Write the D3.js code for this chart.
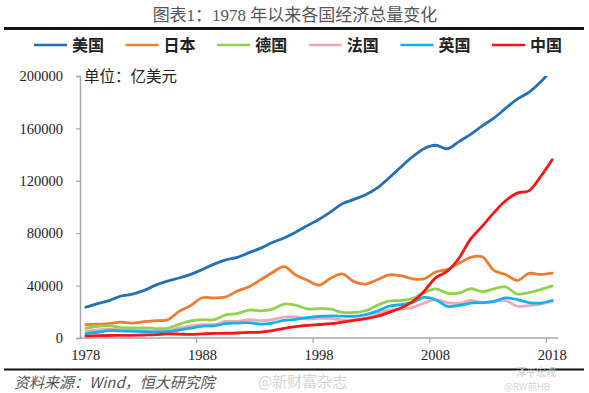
<!DOCTYPE html>
<html>
<head>
<meta charset="utf-8">
<script src="https://cdn.jsdelivr.net/npm/d3@7"></script>
<style>
  html, body { margin: 0; padding: 0; background: #fff; }
  svg { display: block; }
</style>
</head>
<body>
<svg id="chart" width="589" height="393"></svg>
<script>
// GDP by country since 1978, unit: 100 million USD
const years = d3.range(1978, 2019);
const us = [23520, 26270, 28570, 32070, 33430, 36340, 40370, 43390, 45790, 48550,
  52360, 56410, 59630, 61580, 65200, 68590, 72870, 76400, 80730, 85780,
  90630, 96310, 102520, 105820, 109360, 114580, 122140, 130370, 138150, 144520,
  147130, 144490, 149920, 155430, 161970, 167850, 175270, 182380, 187450, 195430, 205000];
const japan = [10130, 10550, 11050, 12180, 11340, 12430, 13180, 13850, 20310, 24860,
  30710, 30540, 31330, 35850, 39090, 44540, 49990, 54490, 48150, 44150,
  40330, 45620, 48880, 43040, 41150, 44460, 48150, 47550, 45300, 45150,
  50380, 52310, 57000, 61570, 62030, 51560, 48500, 43890, 49270, 48600, 49550];
const germany = [7400, 8810, 9500, 8000, 7770, 7710, 7200, 7330, 10460, 12980,
  14010, 13980, 17720, 18690, 21310, 20720, 22060, 25920, 25040, 22180,
  22430, 22000, 19500, 19450, 20800, 25060, 28150, 28610, 30020, 34400,
  37520, 34180, 34170, 37580, 35440, 37530, 38990, 33580, 34690, 36900, 39770];
const france = [5070, 6140, 7010, 6150, 5850, 5590, 5300, 5530, 7710, 9340,
  10190, 10180, 12690, 12700, 14010, 13220, 13930, 16010, 16050, 14520,
  15030, 14930, 13680, 13820, 15000, 18440, 21190, 21960, 23200, 26600,
  29300, 27000, 26430, 28620, 26830, 28110, 28520, 24390, 24720, 25950, 27880];
const uk = [3350, 4380, 5650, 5400, 5150, 4890, 4620, 4890, 6010, 7450,
  9100, 9260, 10930, 11420, 11790, 10610, 11400, 13440, 14190, 15610,
  16530, 16880, 16660, 16490, 17850, 20540, 24220, 25390, 27130, 30930,
  29230, 24100, 24850, 26660, 27060, 27860, 30650, 29330, 27040, 26660, 28610];
const china = [1490, 1780, 1910, 1960, 2050, 2300, 2600, 3090, 3010, 2730,
  3120, 3480, 3610, 3830, 4270, 4450, 5640, 7340, 8640, 9620,
  10290, 10940, 12110, 13390, 14710, 16600, 19550, 22860, 27520, 35500,
  45940, 51020, 60870, 75520, 85320, 95700, 104750, 110620, 112330, 123100, 136100];

const seriesNames = ['美国', '日本', '德国', '法国', '英国', '中国'];
const seriesValues = [us, japan, germany, france, uk, china];
const seriesColors = ['#2470b8', '#ed7d31', '#92d050', '#eeaab4', '#12b0ec', '#fa1414'];

const yTicks = [0, 40000, 80000, 120000, 160000, 200000];
const xLabels = [1978, 1988, 1998, 2008, 2018];

const svg = d3.select('#chart');
const serif = '"Liberation Serif", "Noto Sans CJK SC", serif';
const cjk = '"Noto Sans CJK SC", sans-serif';

// title and rule
svg.append('text')
  .attr('x', 295).attr('y', 21)
  .attr('text-anchor', 'middle')
  .attr('font-family', serif)
  .attr('font-size', 17)
  .attr('fill', '#555')
  .text('图表1：1978 年以来各国经济总量变化');

svg.append('line')
  .attr('x1', 4).attr('x2', 584)
  .attr('y1', 28.5).attr('y2', 28.5)
  .attr('stroke', '#111').attr('stroke-width', 3);

// legend
const legend = svg.append('g')
  .selectAll('g')
  .data(seriesNames)
  .enter()
  .append('g')
  .attr('transform', (d, i) => `translate(${34 + i * 91.6},45)`);

legend.append('line')
  .attr('x1', 0).attr('x2', 33)
  .attr('stroke', (d, i) => seriesColors[i])
  .attr('stroke-width', 2.5);

legend.append('text')
  .attr('x', 38).attr('y', 6)
  .attr('font-family', cjk)
  .attr('font-weight', 'bold')
  .attr('font-size', 16)
  .attr('fill', '#222')
  .text(d => d);

// scales
const x = d3.scaleBand().domain(years).range([80, 558]).padding(0);
const y = d3.scaleLinear().domain([0, 200000]).range([338, 76]);
const cx = yr => x(yr) + x.bandwidth() / 2;

// y axis
const yAxis = svg.append('g')
  .attr('transform', 'translate(80,0)')
  .call(d3.axisLeft(y).tickValues(yTicks).tickSize(4).tickPadding(13).tickFormat(d3.format('d')));
yAxis.select('.domain').attr('stroke', '#a6a6a6').attr('stroke-width', 1.5);
yAxis.selectAll('.tick line').attr('stroke', '#a6a6a6').attr('stroke-width', 1.2);
yAxis.selectAll('.tick text')
  .attr('font-family', serif)
  .attr('font-size', 14.5)
  .attr('fill', '#222');

// x axis: ticks on category boundaries, labels centred on categories
svg.append('line')
  .attr('x1', 80).attr('x2', 558)
  .attr('y1', y(0)).attr('y2', y(0))
  .attr('stroke', '#a6a6a6').attr('stroke-width', 1.5);

svg.append('g')
  .selectAll('line')
  .data(xLabels.slice(1))
  .enter()
  .append('line')
  .attr('x1', d => x(d)).attr('x2', d => x(d))
  .attr('y1', y(0)).attr('y2', y(0) + 5)
  .attr('stroke', '#a6a6a6').attr('stroke-width', 1.2);

svg.append('g')
  .selectAll('text')
  .data(xLabels)
  .enter()
  .append('text')
  .attr('x', d => cx(d))
  .attr('y', 360)
  .attr('text-anchor', 'middle')
  .attr('font-family', serif)
  .attr('font-size', 14.5)
  .attr('fill', '#222')
  .text(d => d);

// unit label
svg.append('text')
  .attr('x', 84).attr('y', 82)
  .attr('font-family', cjk)
  .attr('font-size', 15.5)
  .attr('fill', '#222')
  .text('单位：亿美元');

// lines, clipped to the plot area like the original
svg.append('clipPath').attr('id', 'plot')
  .append('rect')
  .attr('x', 80).attr('y', y(200000))
  .attr('width', 480).attr('height', y(0) - y(200000) + 3);

const line = d3.line()
  .x((d, i) => cx(years[i]))
  .y(d => y(d))
  .curve(d3.curveCatmullRom.alpha(0.5));

svg.append('g')
  .attr('clip-path', 'url(#plot)')
  .selectAll('path')
  .data(seriesValues)
  .enter()
  .append('path')
  .attr('d', d => line(d))
  .attr('fill', 'none')
  .attr('stroke', (d, i) => seriesColors[i])
  .attr('stroke-width', 2.8)
  .attr('stroke-linejoin', 'round')
  .attr('stroke-linecap', 'round');

// source
svg.append('line')
  .attr('x1', 4).attr('x2', 584)
  .attr('y1', 369.5).attr('y2', 369.5)
  .attr('stroke', '#111').attr('stroke-width', 2);

svg.append('text')
  .attr('x', 14).attr('y', 388)
  .attr('font-family', cjk)
  .attr('font-style', 'italic')
  .attr('font-size', 15)
  .attr('fill', '#555')
  .text('资料来源：Wind，恒大研究院');

// faint watermarks
svg.append('text')
  .attr('x', 258).attr('y', 387)
  .attr('font-family', cjk)
  .attr('font-size', 15)
  .attr('fill', '#d4d4d4')
  .text('@新财富杂志');

svg.append('text')
  .attr('x', 516).attr('y', 375.5)
  .attr('font-family', cjk)
  .attr('font-size', 10)
  .attr('fill', '#c8c8c8')
  .text('泽平宏观');

svg.append('text')
  .attr('x', 504).attr('y', 390)
  .attr('font-family', cjk)
  .attr('font-size', 9.5)
  .attr('fill', '#d4d4d4')
  .text('@RW前HB');
</script>
</body>
</html>
